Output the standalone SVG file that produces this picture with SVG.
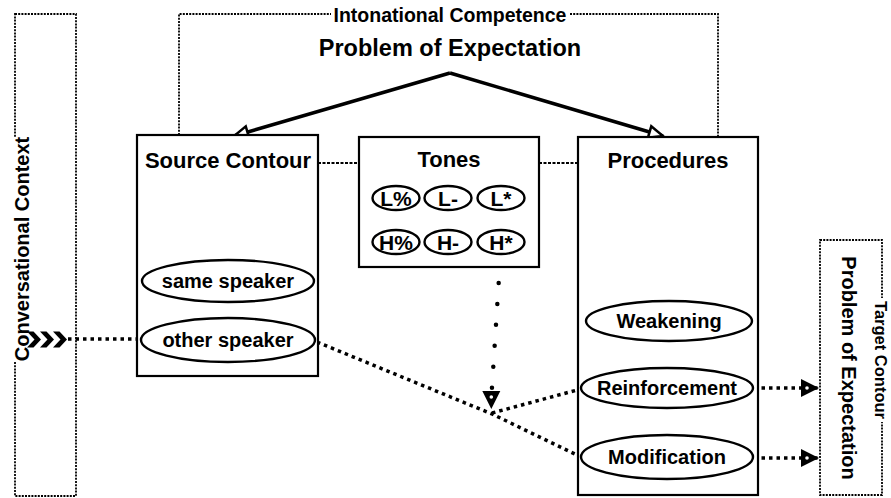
<svg xmlns="http://www.w3.org/2000/svg" width="891" height="498" viewBox="0 0 891 498">
<style>
  text { font-family: "Liberation Sans", Arial, sans-serif; font-weight: bold; fill: #000; text-anchor: middle; }
  .box { fill: #fff; stroke: #000; stroke-width: 2.2; }
  .frame { fill: none; stroke: #000; stroke-width: 1.8; stroke-dasharray: 2 1.2; }
  .oval { fill: #fff; stroke: #000; stroke-width: 2.4; }
  .thin { fill: none; stroke: #000; stroke-width: 2; stroke-dasharray: 3 1.5; }
  .dots { fill: none; stroke: #000; stroke-width: 3.5; stroke-dasharray: 3.5 4; }
  .bigdots { fill: none; stroke: #000; stroke-width: 4.5; stroke-linecap: round; stroke-dasharray: 0 21; }
  .heavy { fill: none; stroke: #000; stroke-width: 3.5; }
  .h1 { font-size: 23.5px; }
  .h2 { font-size: 22px; }
  .lbl { font-size: 20px; }
  .tone { font-size: 21px; }
  .bg { fill: #fff; stroke: none; }
</style>
<defs>
  <marker id="open" markerUnits="userSpaceOnUse" markerWidth="18" markerHeight="16" viewBox="0 0 18 16" refX="16" refY="8" orient="auto">
    <path d="M2,2 L16,8 L2,14 Z" fill="#fff" stroke="#000" stroke-width="2.5" stroke-linejoin="miter"/>
  </marker>
  <marker id="solid" markerUnits="userSpaceOnUse" markerWidth="20" markerHeight="20" viewBox="0 0 20 20" refX="19" refY="10" orient="auto">
    <path d="M1,1 L19,10 L1,19 Z" fill="#000"/>
    <circle cx="7" cy="10" r="1.8" fill="#fff"/>
  </marker>
</defs>

<g id="conversational-context">
  <rect class="frame" x="15" y="14" width="61" height="482"/>
  <rect class="bg" x="7" y="137" width="22" height="224"/>
  <text style="font-size:20px" transform="translate(29,249) rotate(-90)">Conversational Context</text>
</g>

<g id="intonational-competence">
  <path class="frame" d="M179,135 L179,14 L718,14 L718,136"/>
  <rect class="bg" x="331" y="5" width="238" height="20"/>
  <text style="font-size:19.5px" x="450" y="22">Intonational Competence</text>
  <text class="h1" x="450" y="56">Problem of Expectation</text>
</g>

<g id="target-contour">
  <rect class="frame" x="820" y="240" width="62" height="255"/>
  <rect class="bg" x="872" y="298" width="18" height="124"/>
  <text style="font-size:16.5px" transform="translate(875,360) rotate(90)">Target Contour</text>
  <text class="lbl" transform="translate(842,368) rotate(90)">Problem of Expectation</text>
</g>

<g id="connectors">
  <line class="thin" x1="318" y1="163" x2="359" y2="163"/>
  <line class="thin" x1="539" y1="163" x2="578" y2="163"/>
  <line class="heavy" x1="450" y1="73" x2="234" y2="136" marker-end="url(#open)"/>
  <line class="heavy" x1="450" y1="73" x2="663" y2="136" marker-end="url(#open)"/>
  <line class="dots" x1="68" y1="339" x2="140" y2="339"/>
  <polyline class="dots" points="317,342 492,414 581,457"/>
  <line class="dots" x1="492" y1="413" x2="581" y2="389"/>
  <path class="bigdots" d="M500,262 L491.5,395"/>
  <path d="M491.3,395 L491.3,409" stroke="none" fill="none" marker-end="url(#solid)"/>
  <line class="dots" x1="754" y1="388" x2="819" y2="388" marker-end="url(#solid)"/>
  <line class="dots" x1="754" y1="458" x2="819" y2="458" marker-end="url(#solid)"/>
</g>

<g id="chevrons">
  <path d="M27,331.5 L33.5,331.5 L41,339.5 L33.5,347.5 L27,347.5 L34.5,339.5 Z" fill="#000"/>
  <path d="M40,331.5 L46.5,331.5 L54,339.5 L46.5,347.5 L40,347.5 L47.5,339.5 Z" fill="#000"/>
  <path d="M53,331.5 L59.5,331.5 L67,339.5 L59.5,347.5 L53,347.5 L60.5,339.5 Z" fill="#000"/>
</g>

<g id="source-contour">
  <rect class="box" x="137" y="135" width="181" height="241"/>
  <text class="h2" x="228" y="168">Source Contour</text>
  <g id="same-speaker">
    <ellipse class="oval" cx="228" cy="281" rx="86" ry="21"/>
    <text class="lbl" x="228" y="288">same speaker</text>
  </g>
  <g id="other-speaker">
    <ellipse class="oval" cx="228" cy="340" rx="87" ry="22"/>
    <text class="lbl" x="228" y="347">other speaker</text>
  </g>
</g>

<g id="tones">
  <rect class="box" x="359" y="137" width="180" height="130"/>
  <text class="h2" x="449" y="167">Tones</text>
  <g id="tone-L-pct"><ellipse class="oval" cx="396" cy="198" rx="23.5" ry="12"/><text class="tone" x="396" y="205.5">L%</text></g>
  <g id="tone-L-minus"><ellipse class="oval" cx="448" cy="198" rx="23.5" ry="12"/><text class="tone" x="448" y="205.5">L-</text></g>
  <g id="tone-L-star"><ellipse class="oval" cx="501" cy="198" rx="23.5" ry="12"/><text class="tone" x="501" y="205.5">L*</text></g>
  <g id="tone-H-pct"><ellipse class="oval" cx="396" cy="242" rx="23.5" ry="12"/><text class="tone" x="396" y="249.5">H%</text></g>
  <g id="tone-H-minus"><ellipse class="oval" cx="448" cy="242" rx="23.5" ry="12"/><text class="tone" x="448" y="249.5">H-</text></g>
  <g id="tone-H-star"><ellipse class="oval" cx="501" cy="242" rx="23.5" ry="12"/><text class="tone" x="501" y="249.5">H*</text></g>
</g>

<g id="procedures">
  <rect class="box" x="578" y="137" width="180" height="358"/>
  <text class="h2" x="668" y="168">Procedures</text>
  <g id="weakening">
    <ellipse class="oval" cx="669" cy="321" rx="83" ry="20"/>
    <text class="lbl" x="669" y="328">Weakening</text>
  </g>
  <g id="reinforcement">
    <ellipse class="oval" cx="667" cy="388" rx="86" ry="20"/>
    <text class="lbl" x="667" y="395">Reinforcement</text>
  </g>
  <g id="modification">
    <ellipse class="oval" cx="667" cy="457" rx="86" ry="22"/>
    <text class="lbl" x="667" y="464">Modification</text>
  </g>
</g>
</svg>
